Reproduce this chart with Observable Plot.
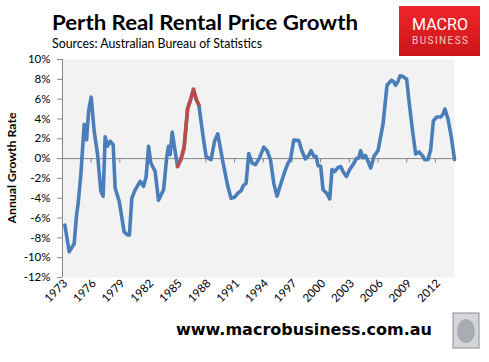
<!DOCTYPE html>
<html><head><meta charset="utf-8">
<script src="https://cdn.jsdelivr.net/npm/d3@7"></script>
<script src="https://cdn.jsdelivr.net/npm/@observablehq/plot@0.6"></script>
<style>
body{margin:0;background:#fff;}
#chart svg{display:block;}
</style>
</head><body>
<div id="chart"></div>
<script>
// ---- data ----
const years = [1973.25,1973.70,1974.22,1974.47,1974.64,1974.92,1975.27,1975.52,1975.73,1976.00,
  1976.31,1976.67,1977.01,1977.25,1977.46,1977.71,1977.99,1978.30,1978.51,1978.93,
  1979.45,1979.80,1980.00,1980.25,1980.60,1981.12,1981.48,1981.75,1982.00,1982.24,
  1982.69,1983.04,1983.57,1983.91,1984.09,1984.26,1984.47,1984.78,1985.03,1985.38,
  1985.72,1986.08,1986.35,1986.70,1986.98,1987.26,1987.68,1988.02,1988.54,1988.90,
  1989.24,1989.77,1990.29,1990.63,1990.99,1991.33,1991.68,1991.93,1992.20,1992.48,
  1992.83,1993.18,1993.60,1994.05,1994.40,1994.75,1995.10,1995.44,1995.80,1996.25,
  1996.59,1996.84,1997.19,1997.71,1998.05,1998.41,1998.75,1999.00,1999.28,1999.52,
  1999.73,2000.01,2000.25,2000.64,2000.95,2001.19,2001.47,2001.82,2002.10,2002.34,
  2002.70,2003.04,2003.39,2003.74,2003.98,2004.19,2004.43,2004.68,2004.95,2005.24,
  2005.58,2006.00,2006.52,2006.94,2007.40,2007.61,2007.85,2008.09,2008.30,2008.65,
  2009.00,2009.24,2009.60,2009.94,2010.29,2010.64,2010.88,2011.23,2011.51,2011.79,
  2012.14,2012.55,2012.79,2013.00,2013.32,2013.67,2014.00];
const growth = [-6.7,-9.4,-8.6,-5.7,-4.5,-1.6,3.45,1.9,4.8,6.2,
  2.8,0.4,-3.3,-3.8,2.2,1.25,1.75,1.4,-3.0,-4.3,
  -7.4,-7.7,-7.7,-4.0,-3.15,-2.3,-2.8,-1.8,1.25,-0.45,
  -1.3,-4.2,-3.15,0.2,1.25,0.4,2.67,0.75,-0.8,-0.1,
  1.1,5.0,5.8,7.0,6.0,5.4,2.4,0.2,-0.1,1.75,
  2.5,-0.3,-2.8,-4.0,-3.9,-3.5,-3.25,-2.7,-2.5,0.5,
  -0.45,-0.6,0.05,1.15,0.8,-0.1,-2.5,-3.8,-2.65,-1.3,
  -0.45,-0.1,1.86,1.83,0.74,-0.04,0.33,0.8,0.23,0.23,
  -0.7,-0.8,-3.15,-3.5,-4.06,-1.1,-1.3,-0.9,-0.8,-1.3,
  -1.8,-1.1,-0.6,0.0,0.06,0.8,0.06,0.33,-0.27,-0.95,
  0.23,0.8,3.45,7.4,7.9,7.8,7.4,7.8,8.35,8.25,
  8.0,5.8,2.9,0.47,0.67,0.3,-0.1,-0.1,0.9,3.8,
  4.2,4.2,4.47,5.0,4.0,2.16,-0.1];
const highlightFrom = 1985.03, highlightTo = 1987.26;
const xTickLabels = [1973,1976,1979,1982,1985,1988,1991,1994,1997,2000,2003,2006,2009,2012];
const yTickValues = [-12,-10,-8,-6,-4,-2,0,2,4,6,8,10];
const titleText = "Perth Real Rental Price Growth";
const subtitleText = "Sources: Australian Bureau of Statistics";
const yAxisTitle = "Annual Growth Rate";
const footerText = "www.macrobusiness.com.au";

const data = years.map((year, i) => ({year, value: growth[i]}));
const hi = data.filter(d => d.year >= highlightFrom && d.year <= highlightTo);

const blue = "#4a7ebb", red = "#be4b48", axisGray = "#868686";

const plot = Plot.plot({
  width: 489, height: 362,
  marginLeft: 62, marginRight: 35, marginTop: 59, marginBottom: 85,
  style: {fontFamily: "Lato, sans-serif", fontSize: "11.5px", color: "#000", background: "#fff"},
  x: {domain: [1973, 2014]},
  y: {domain: [-12, 10]},
  marks: [
    Plot.frame({fill: "#f2f2f2", stroke: null}),
    Plot.ruleY([0], {stroke: axisGray, strokeWidth: 1}),
    Plot.ruleX(xTickLabels, {x: d => d, y1: 0, y2: -0.45, stroke: axisGray}),
    Plot.ruleX([1973], {y1: -12, y2: 10, stroke: axisGray}),
    Plot.axisY(yTickValues, {tickSize: 5, tickPadding: 7, tickFormat: d => d + "%", stroke: axisGray, fill: "#000", label: null}),
    Plot.axisX(xTickLabels, {tickSize: 0, tickRotate: -45, tickPadding: 4, dx: 3, tickFormat: d => String(d), fill: "#000", label: null}),
    Plot.line(data, {x: "year", y: "value", stroke: blue, strokeWidth: 3.6, strokeLinejoin: "round", strokeLinecap: "round"}),
    Plot.line(hi, {x: "year", y: "value", stroke: red, strokeWidth: 3.6, strokeLinejoin: "round", strokeLinecap: "round"})
  ]
});
document.getElementById("chart").appendChild(plot);

// ---- decorations: title, subtitle, logo, axis title, footer ----
const svg = d3.select(plot);
const defs = svg.append("defs");
const g1 = defs.append("linearGradient").attr("id", "logoGrad").attr("x1", 0).attr("y1", 0).attr("x2", 0).attr("y2", 1);
g1.append("stop").attr("offset", "0%").attr("stop-color", "#f0262b");
g1.append("stop").attr("offset", "100%").attr("stop-color", "#cc1518");

svg.append("text").text(titleText)
  .attr("x", 52).attr("y", 30).attr("text-anchor", "start")
  .attr("font-family", "Lato, sans-serif").attr("font-weight", "bold").attr("font-size", 20.5)
  .attr("textLength", 306).attr("lengthAdjust", "spacingAndGlyphs").attr("fill", "#000");
svg.append("text").text(subtitleText)
  .attr("x", 52).attr("y", 48).attr("text-anchor", "start")
  .attr("font-family", "Lato, sans-serif").attr("font-size", 12.5)
  .attr("textLength", 210).attr("lengthAdjust", "spacingAndGlyphs").attr("fill", "#000");

svg.append("rect").attr("x", 399).attr("y", 6).attr("width", 81).attr("height", 50).attr("fill", "url(#logoGrad)");
svg.append("text").text("MACRO")
  .attr("x", 440).attr("y", 30).attr("text-anchor", "middle")
  .attr("font-family", "Roboto, sans-serif").attr("font-size", 17)
  .attr("textLength", 56).attr("lengthAdjust", "spacingAndGlyphs").attr("fill", "#fff");
svg.append("text").text("BUSINESS")
  .attr("x", 440).attr("y", 44).attr("text-anchor", "middle")
  .attr("font-family", "Roboto, sans-serif").attr("font-size", 10)
  .attr("textLength", 56).attr("lengthAdjust", "spacing").attr("fill", "#f6c6c6");

svg.append("text").text(yAxisTitle)
  .attr("transform", "translate(16,168) rotate(-90)").attr("text-anchor", "middle")
  .attr("font-family", "Lato, sans-serif").attr("font-weight", "bold").attr("font-size", 11.5)
  .attr("textLength", 111).attr("lengthAdjust", "spacingAndGlyphs").attr("fill", "#000");

svg.append("text").text(footerText)
  .attr("x", 176).attr("y", 335).attr("text-anchor", "start")
  .attr("font-family", "DejaVu Sans, sans-serif").attr("font-weight", "bold").attr("font-size", 16)
  .attr("textLength", 256).attr("lengthAdjust", "spacingAndGlyphs").attr("fill", "#000");

svg.append("rect").attr("x", 453).attr("y", 313).attr("width", 26).attr("height", 35)
  .attr("fill", "#d4d6da").attr("stroke", "#8c8c8c").attr("stroke-width", 1);
svg.append("ellipse").attr("cx", 466).attr("cy", 331).attr("rx", 9).attr("ry", 12).attr("fill", "#a9adb3");
</script>
</body></html>
